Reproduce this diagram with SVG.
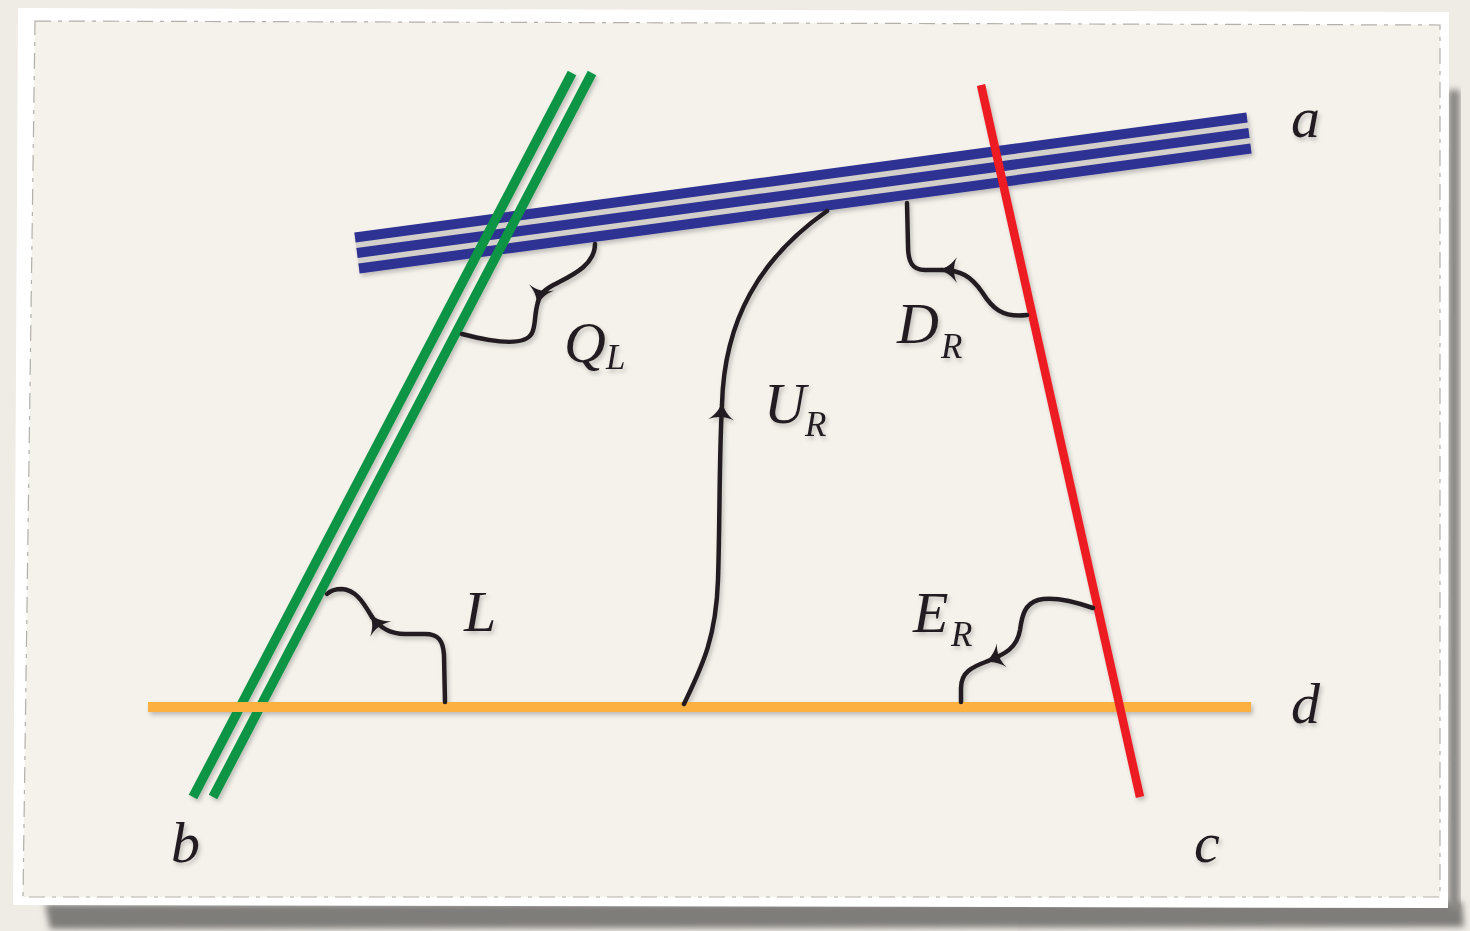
<svg xmlns="http://www.w3.org/2000/svg" width="1470" height="931" viewBox="0 0 1470 931">
  <style>
    .lbl { font-family: "Liberation Serif", "DejaVu Serif", serif; font-style: italic; fill: #231f20; }
    .big { font-size: 58px; }
    .sub { font-size: 35px; }
    .curve { fill: none; stroke: #231f20; stroke-width: 4.5; stroke-linecap: round; }
    .blue { stroke: #2e3192; stroke-width: 10; }
    .green { stroke: #0b9444; stroke-width: 9.5; }
    .red { stroke: #ed1c24; stroke-width: 8.5; }
    .orange { stroke: #fbb040; stroke-width: 10; }
  </style>
  <defs>
    <filter id="sh" x="-10%" y="-10%" width="120%" height="120%">
      <feDropShadow dx="2" dy="3" stdDeviation="2" flood-color="#000" flood-opacity="0.22"/>
    </filter>
    <filter id="blur" x="-5%" y="-50%" width="110%" height="200%">
      <feGaussianBlur stdDeviation="3"/>
    </filter>
    <marker id="arr" viewBox="-20 -16 26 32" markerWidth="26" markerHeight="32" refX="0" refY="0" orient="auto" markerUnits="userSpaceOnUse">
      <path d="M4,0 C-5,-2 -10,-6.5 -15,-13 C-11,-5 -11,5 -15,13 C-10,6.5 -5,2 4,0 Z" fill="#231f20"/>
    </marker>
  </defs>

  <!-- paper / frame -->
  <rect x="0" y="0" width="1470" height="931" fill="#efebe5"/>
  <g id="frame">
    <path d="M45,904 L1462,902 L1464,927 L50,929 Z" fill="#7f7d7a" filter="url(#blur)"/>
    <path d="M1448,90 L1460,90 L1460,910 L1448,910 Z" fill="#8a8885" filter="url(#blur)"/>
    <path d="M18,8 L1449,12 L1448,908 L13,905 Z" fill="#ffffff"/>
    <path d="M35,21 L1440,25 L1440,897 L23,897 Z" fill="#f5f2ec" stroke="#b3afab" stroke-width="1.2" stroke-dasharray="16 7 4 7"/>
  </g>

  <!-- connectors: lines and arcs -->
  <g id="connectors" filter="url(#sh)">
    <g id="line-a">
      <path d="M357,253 L1249,133" stroke="#d3d0cc" stroke-width="40" fill="none"/>
      <line class="blue" x1="355" y1="237.5" x2="1247" y2="117.5"/>
      <line class="blue" x1="357" y1="253" x2="1249" y2="133"/>
      <line class="blue" x1="359" y1="268.5" x2="1251" y2="148.5"/>
    </g>
    <g id="line-b">
      <line class="green" x1="193" y1="797" x2="572" y2="73"/>
      <line class="green" x1="213" y1="797" x2="592" y2="73"/>
    </g>
    <g id="line-d">
      <line class="orange" x1="148" y1="707" x2="1251" y2="707"/>
    </g>
    <g id="line-c">
      <line class="red" x1="981" y1="85" x2="1140" y2="797"/>
    </g>

    <g id="arc-QL">
      <path class="curve" d="M595,244 C595,268 565,278 550,287 C540,293 539,298 538,302" marker-end="url(#arr)"/>
      <path class="curve" d="M538,302 C534,315 536,325 532,333 C526,345 500,344 462,334"/>
    </g>
    <g id="arc-DR">
      <path class="curve" d="M1027,315 C1002,318 992,308 982,292 C971,276 960,270 942,270" marker-end="url(#arr)"/>
      <path class="curve" d="M942,270 L925,270 C912,270 908,262 908,245 L907,203"/>
    </g>
    <g id="arc-UR">
      <path class="curve" d="M684,704 C701,668 716,640 718,580 C720,520 719,460 722,405" marker-end="url(#arr)"/>
      <path class="curve" d="M722,405 C724,320 760,258 827,211"/>
    </g>
    <g id="arc-L">
      <path class="curve" d="M445,702 L444,655 C443,640 438,634 425,634 L405,634 C390,634 380,628 372,617" marker-end="url(#arr)"/>
      <path class="curve" d="M372,617 C362,600 355,590 342,589 C335,589 330,591 327,594"/>
    </g>
    <g id="arc-ER">
      <path class="curve" d="M1093,608 C1070,600 1050,597 1038,600 C1025,604 1022,615 1020,630 C1017,648 1005,654 988,661" marker-end="url(#arr)"/>
      <path class="curve" d="M988,661 C972,667 961,672 961,688 L961,702"/>
    </g>
  </g>

  <!-- labels -->
  <g id="labels" filter="url(#sh)">
    <g id="node-a"><text class="lbl big" x="1291" y="137">a</text></g>
    <g id="node-b"><text class="lbl big" x="171" y="862">b</text></g>
    <g id="node-c"><text class="lbl big" x="1194" y="862">c</text></g>
    <g id="node-d"><text class="lbl big" x="1291" y="723">d</text></g>
    <g id="node-QL"><text class="lbl big" x="564" y="362">Q</text><text class="lbl sub" x="606" y="369">L</text></g>
    <g id="node-DR"><text class="lbl big" x="897" y="343">D</text><text class="lbl sub" x="941" y="358">R</text></g>
    <g id="node-UR"><text class="lbl big" x="764" y="423">U</text><text class="lbl sub" x="805" y="436">R</text></g>
    <g id="node-L"><text class="lbl big" x="464" y="631">L</text></g>
    <g id="node-ER"><text class="lbl big" x="913" y="632">E</text><text class="lbl sub" x="951" y="646">R</text></g>
  </g>
</svg>
